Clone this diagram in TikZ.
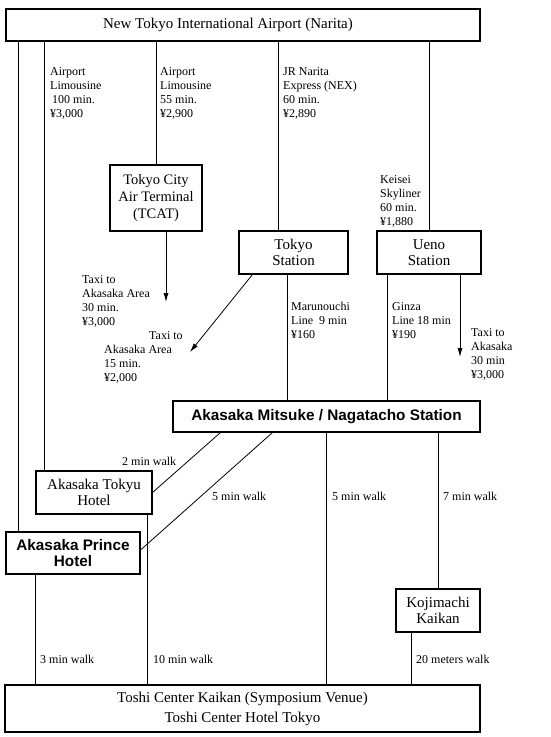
\documentclass[tikz,border=0pt]{standalone}
\usepackage{fontspec}
\setmainfont{Liberation Serif}
\setsansfont{Liberation Sans}
\usetikzlibrary{arrows.meta}
\tikzset{every node/.style={font=\fontsize{12}{14}\selectfont},
  box/.style={draw,line width=1.1pt,align=center,inner sep=0pt,
    font=\fontsize{15}{16.5}\selectfont},
  boldbox/.style={box,font=\sffamily\bfseries\fontsize{15.3}{16.8}\selectfont},
  route/.style={line width=0.8pt},
  taxi/.style={route,-{Latex[length=9pt,width=5pt]}},
  fare/.style={anchor=north west,align=left,inner sep=0pt},
  walk/.style={anchor=west,inner sep=0pt}}

\begin{document}
\begin{tikzpicture}[x=1pt,y=-1pt]
  \path[use as bounding box] (0,0) rectangle (550,737);
  \node[box,minimum width=474pt,minimum height=32pt] (airport) at (243,25)
    {New Tokyo International Airport (Narita)\hspace*{30pt}};
  \node[box,minimum width=92pt,minimum height=66pt,font=\fontsize{14.5}{17}\selectfont]
    (tcat) at (156,198) {Tokyo City\\Air Terminal\\(TCAT)};
  \node[box,minimum width=109pt,minimum height=43pt] (tokyo) at (293.5,252.5)
    {Tokyo\\Station};
  \node[box,minimum width=104pt,minimum height=43pt] (ueno) at (429,252.5)
    {Ueno\\Station};
  \node[boldbox,minimum width=307pt,minimum height=31pt] (akasaka) at (326.5,416.5)
    {Akasaka Mitsuke / Nagatacho Station};
  \node[box,minimum width=116pt,minimum height=43pt] (tokyu) at (94,492.5)
    {Akasaka Tokyu\\Hotel};
  \node[boldbox,minimum width=134pt,minimum height=42pt] (prince) at (73,553)
    {Akasaka Prince\\Hotel};
  \node[box,minimum width=84pt,minimum height=43pt] (kojimachi) at (438,610.5)
    {Kojimachi\\Kaikan};
  \node[box,minimum width=475pt,minimum height=47pt,font=\fontsize{15}{20}\selectfont]
    (venue) at (242.5,708.5)
    {Toshi Center Kaikan (Symposium Venue)\\Toshi Center Hotel Tokyo};

  \node[fare] (limoA) at (50,67) {Airport\\Limousine\\\hspace*{2pt}100 min.\\¥3,000};
  \node[fare] (limoB) at (160,67) {Airport\\Limousine\\55 min.\\¥2,900};
  \node[fare] (nex) at (283,67) {JR Narita\\Express (NEX)\\60 min.\\¥2,890};
  \node[fare] (skyliner) at (380,175) {Keisei\\Skyliner\\60 min.\\¥1,880};
  \node[fare] (taxiA) at (82,275) {Taxi to\\Akasaka Area\\30 min.\\¥3,000};
  \node[fare] (taxiB) at (104,331) {\hspace*{45pt}Taxi to\\Akasaka Area\\15 min.\\¥2,000};
  \node[fare] (marunouchi) at (291,302) {Marunouchi\\Line\ \ 9 min\\¥160};
  \node[fare] (ginza) at (392,302) {Ginza\\Line 18 min\\¥190};
  \node[fare] (taxiC) at (471,328) {Taxi to\\Akasaka\\30 min\\¥3,000};

  \draw[route] (airport.south west) ++(13,0) coordinate (l1) -- (l1 |- prince.north);
  \draw[route] (airport.south west) ++(39,0) coordinate (l2) -- (l2 |- tokyu.north);
  \draw[route] (tcat.north) -- (tcat.north |- airport.south);
  \draw[route] (airport.south west) ++(273,0) coordinate (l4) -- (l4 |- tokyo.north);
  \draw[route] (ueno.north) -- (ueno.north |- airport.south);

  \coordinate (tcatend) at (166,302);
  \draw[taxi] (tcat.south -| tcatend) -- (tcatend);
  \coordinate (tokyoend) at (190,352);
  \draw[taxi] ([xshift=14pt]tokyo.south west) -- (tokyoend);
  \coordinate (uenoend) at (460,357);
  \draw[taxi] (ueno.south -| uenoend) -- (uenoend);

  \draw[route] ([xshift=-6.5pt]tokyo.south) coordinate (m) -- (m |- akasaka.north);
  \draw[route] ([xshift=11pt]ueno.south west) coordinate (g) -- (g |- akasaka.north);

  \draw[route] ([xshift=48pt]akasaka.south west) -- (tokyu.east);
  \draw[route] ([xshift=100pt]akasaka.south west) -- ([yshift=3pt]prince.east);
  \draw[route] (akasaka.south) -- (akasaka.south |- venue.north);
  \draw[route] (kojimachi.north) -- (kojimachi.north |- akasaka.south);
  \draw[route] ([xshift=16pt]kojimachi.south west) coordinate (k) -- (k |- venue.north);
  \draw[route] ([xshift=30pt]prince.south west) coordinate (p) -- (p |- venue.north);
  \draw[route] ([xshift=-5pt]tokyu.south east) coordinate (t) -- (t |- venue.north);

  \node[walk] (walkA) at (122,461) {2 min walk};
  \node[walk] (walkB) at (212,496) {5 min walk};
  \node[walk] (walkC) at (332,496) {5 min walk};
  \node[walk] (walkD) at (443,496) {7 min walk};
  \node[walk] (walkE) at (40,659) {3 min walk};
  \node[walk] (walkF) at (153,659) {10 min walk};
  \node[walk] (walkG) at (416,659) {20 meters walk};
\end{tikzpicture}
\end{document}
